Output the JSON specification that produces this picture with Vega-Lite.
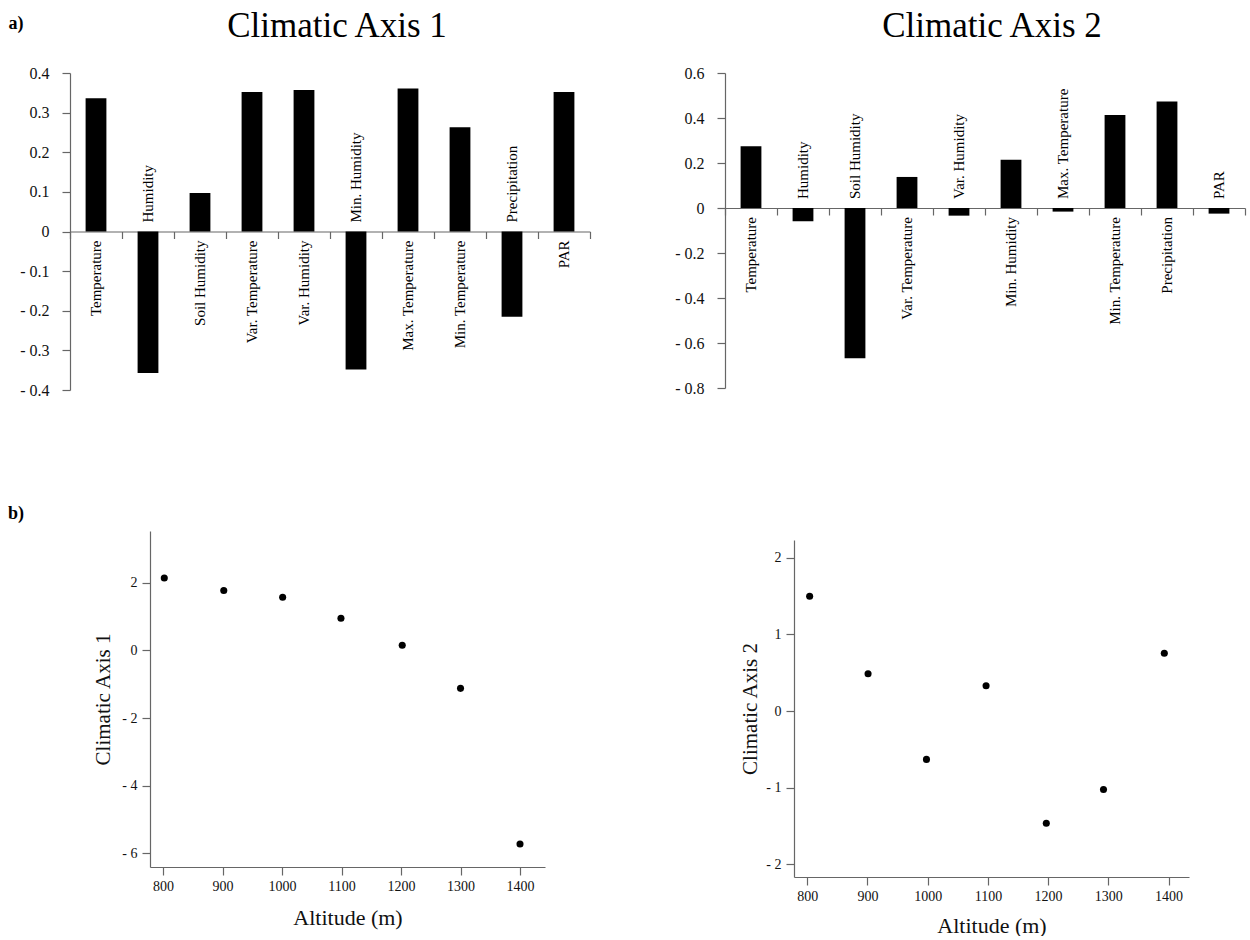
{
  "$schema": "https://vega.github.io/schema/vega-lite/v6.json",
  "autosize": {"type": "pad"},
  "padding": {"left": 8, "top": 9, "right": 2, "bottom": 0},
  "background": "white",
  "config": {
    "view": {"stroke": null},
    "font": "Liberation Serif",
    "axis": {"grid": false, "labelOverlap": false, "labelBound": false, "domainColor": "#666", "tickColor": "#666", "labelColor": "#111", "titleColor": "#111", "labelFont": "Liberation Serif", "titleFont": "Liberation Serif", "titleFontWeight": "normal", "domainWidth": 1.2, "tickWidth": 1.2},
    "title": {"font": "Liberation Serif", "fontWeight": "normal", "color": "#111"}
  },
  "datasets": {
    "loadings1": [
      {"variable": "Temperature", "value": 0.336},
      {"variable": "Humidity", "value": -0.357},
      {"variable": "Soil Humidity", "value": 0.097},
      {"variable": "Var. Temperature", "value": 0.352},
      {"variable": "Var. Humidity", "value": 0.357},
      {"variable": "Min. Humidity", "value": -0.348},
      {"variable": "Max. Temperature", "value": 0.361},
      {"variable": "Min. Temperature", "value": 0.263},
      {"variable": "Precipitation", "value": -0.215},
      {"variable": "PAR", "value": 0.352}
    ],
    "loadings2": [
      {"variable": "Temperature", "value": 0.274},
      {"variable": "Humidity", "value": -0.059},
      {"variable": "Soil Humidity", "value": -0.668},
      {"variable": "Var. Temperature", "value": 0.138},
      {"variable": "Var. Humidity", "value": -0.034},
      {"variable": "Min. Humidity", "value": 0.215},
      {"variable": "Max. Temperature", "value": -0.016},
      {"variable": "Min. Temperature", "value": 0.413},
      {"variable": "Precipitation", "value": 0.473},
      {"variable": "PAR", "value": -0.025}
    ],
    "scores1": [
      {"altitude": 802, "score": 2.14},
      {"altitude": 902, "score": 1.77},
      {"altitude": 1001, "score": 1.57},
      {"altitude": 1099, "score": 0.95},
      {"altitude": 1202, "score": 0.156},
      {"altitude": 1300, "score": -1.12},
      {"altitude": 1400, "score": -5.72}
    ],
    "scores2": [
      {"altitude": 804, "score": 1.497},
      {"altitude": 901, "score": 0.487},
      {"altitude": 998, "score": -0.63},
      {"altitude": 1097, "score": 0.33},
      {"altitude": 1197, "score": -1.462},
      {"altitude": 1292, "score": -1.022},
      {"altitude": 1393, "score": 0.753}
    ]
  },
  "spacing": 107,
  "vconcat": [
    {
      "spacing": 135,
      "bounds": "flush",
      "hconcat": [
        {
          "data": {"name": "loadings1"},
          "width": 520,
          "height": 317,
          "title": {"text": "Climatic Axis 1", "fontSize": 35, "font": "Liberation Serif", "frame": "group", "anchor": "middle", "dx": 7, "offset": -30, "color": "#000"},
          "encoding": {
            "x": {"field": "variable", "type": "nominal", "sort": null,
              "scale": {"domain": ["Temperature", "Humidity", "Soil Humidity", "Var. Temperature", "Var. Humidity", "Min. Humidity", "Max. Temperature", "Min. Temperature", "Precipitation", "PAR"], "paddingInner": 0, "paddingOuter": 0},
              "axis": {"labels": false, "title": null, "tickBand": "extent", "offset": -158.5, "tickSize": 7}}
          },
          "layer": [
            {
              "mark": {"type": "bar", "width": {"band": 0.4}, "color": "#000"},
              "encoding": {
                "y": {"field": "value", "type": "quantitative",
                  "scale": {"domain": [-0.4, 0.4], "nice": false},
                  "axis": {"values": [-0.4, -0.3, -0.2, -0.1, 0, 0.1, 0.2, 0.3, 0.4], "tickCount": 20,
                    "labelExpr": "datum.value == 0 ? '0' : (datum.value < 0 ? '- ' : '') + format(abs(datum.value), '.1f')",
                    "labelOverlap": false, "labelFont": "Liberation Serif",
                    "tickSize": 8, "labelPadding": 13, "labelFontSize": 16,
                    "title": "a)", "titleAngle": 0, "titleX": -62, "titleY": -45, "titleAlign": "left", "titleBaseline": "alphabetic",
                    "titleFont": "Liberation Serif", "titleFontWeight": "bold", "titleFontSize": 18, "titleColor": "#000"}}
              }
            },
            {
              "transform": [{"filter": "datum.value >= 0"}],
              "mark": {"type": "text", "angle": 270, "align": "right", "baseline": "middle", "dx": -9, "fontSize": 15, "font": "Liberation Serif", "color": "#000"},
              "encoding": {"y": {"datum": 0}, "text": {"field": "variable"}}
            },
            {
              "transform": [{"filter": "datum.value < 0"}],
              "mark": {"type": "text", "angle": 270, "align": "left", "baseline": "middle", "dx": 9, "fontSize": 15, "font": "Liberation Serif", "color": "#000"},
              "encoding": {"y": {"datum": 0}, "text": {"field": "variable"}}
            }
          ]
        },
        {
          "data": {"name": "loadings2"},
          "width": 520,
          "height": 315,
          "title": {"text": "Climatic Axis 2", "fontSize": 35, "font": "Liberation Serif", "frame": "group", "anchor": "middle", "dx": 7, "offset": 21, "color": "#000"},
          "encoding": {
            "x": {"field": "variable", "type": "nominal", "sort": null,
              "scale": {"domain": ["Temperature", "Humidity", "Soil Humidity", "Var. Temperature", "Var. Humidity", "Min. Humidity", "Max. Temperature", "Min. Temperature", "Precipitation", "PAR"], "paddingInner": 0, "paddingOuter": 0},
              "axis": {"labels": false, "title": null, "tickBand": "extent", "offset": -180, "tickSize": 7}}
          },
          "layer": [
            {
              "mark": {"type": "bar", "width": {"band": 0.4}, "color": "#000"},
              "encoding": {
                "y": {"field": "value", "type": "quantitative",
                  "scale": {"domain": [-0.8, 0.6], "nice": false},
                  "axis": {"values": [-0.8, -0.6, -0.4, -0.2, 0, 0.2, 0.4, 0.6], "tickCount": 20,
                    "labelExpr": "datum.value == 0 ? '0' : (datum.value < 0 ? '- ' : '') + format(abs(datum.value), '.1f')",
                    "labelOverlap": false, "labelFont": "Liberation Serif",
                    "tickSize": 8, "labelPadding": 13, "labelFontSize": 16, "title": null}}
              }
            },
            {
              "transform": [{"filter": "datum.value >= 0"}],
              "mark": {"type": "text", "angle": 270, "align": "right", "baseline": "middle", "dx": -9, "fontSize": 15, "font": "Liberation Serif", "color": "#000"},
              "encoding": {"y": {"datum": 0}, "text": {"field": "variable"}}
            },
            {
              "transform": [{"filter": "datum.value < 0"}],
              "mark": {"type": "text", "angle": 270, "align": "left", "baseline": "middle", "dx": 9, "fontSize": 15, "font": "Liberation Serif", "color": "#000"},
              "encoding": {"y": {"datum": 0}, "text": {"field": "variable"}}
            }
          ]
        }
      ]
    },
    {
      "spacing": 249,
      "bounds": "flush",
      "hconcat": [
        {
          "data": {"name": "scores1"},
          "width": 475,
          "height": 336,
          "title": {"text": "b)", "fontSize": 18, "font": "Liberation Serif", "fontWeight": "bold", "anchor": "start", "frame": "group", "dx": -62, "offset": 8, "color": "#000"},
          "mark": {"type": "circle", "size": 50, "color": "#000", "opacity": 1},
          "encoding": {
            "x": {"field": "altitude", "type": "quantitative",
              "scale": {"domain": [778, 1442], "range": [80, 475], "nice": false, "zero": false},
              "axis": {"values": [800, 900, 1000, 1100, 1200, 1300, 1400], "tickCount": 20, "format": "d", "title": "Altitude (m)", "labelFont": "Liberation Serif", "titleFont": "Liberation Serif", "tickSize": 8, "labelPadding": 4, "labelFontSize": 14, "titleFontSize": 22, "titlePadding": 14}},
            "y": {"field": "score", "type": "quantitative",
              "scale": {"domain": [-6.4, 3.53], "nice": false, "zero": false},
              "axis": {"values": [-6, -4, -2, 0, 2], "tickCount": 20, "labelExpr": "datum.value < 0 ? '- ' + format(abs(datum.value), 'd') : format(datum.value, 'd')", "labelFont": "Liberation Serif", "titleFont": "Liberation Serif", "offset": -80, "tickSize": 8, "labelPadding": 5, "labelFontSize": 14, "title": "Climatic Axis 1", "titleFontSize": 21, "titlePadding": 8}}
          }
        },
        {
          "data": {"name": "scores2"},
          "width": 395,
          "height": 346,
          "mark": {"type": "circle", "size": 50, "color": "#000", "opacity": 1},
          "encoding": {
            "x": {"field": "altitude", "type": "quantitative",
              "scale": {"domain": [778, 1434], "nice": false, "zero": false},
              "axis": {"values": [800, 900, 1000, 1100, 1200, 1300, 1400], "tickCount": 20, "format": "d", "title": "Altitude (m)", "labelFont": "Liberation Serif", "titleFont": "Liberation Serif", "tickSize": 8, "labelPadding": 4, "labelFontSize": 14, "titleFontSize": 22, "titlePadding": 12}},
            "y": {"field": "score", "type": "quantitative",
              "scale": {"domain": [-2.163, 2.23], "range": [346, 9], "nice": false, "zero": false},
              "axis": {"values": [-2, -1, 0, 1, 2], "tickCount": 20, "labelExpr": "datum.value < 0 ? '- ' + format(abs(datum.value), 'd') : format(datum.value, 'd')", "labelFont": "Liberation Serif", "titleFont": "Liberation Serif", "tickSize": 8, "labelPadding": 5, "labelFontSize": 14, "title": "Climatic Axis 2", "titleFontSize": 21, "titlePadding": 5}}
          }
        }
      ]
    }
  ]
}
